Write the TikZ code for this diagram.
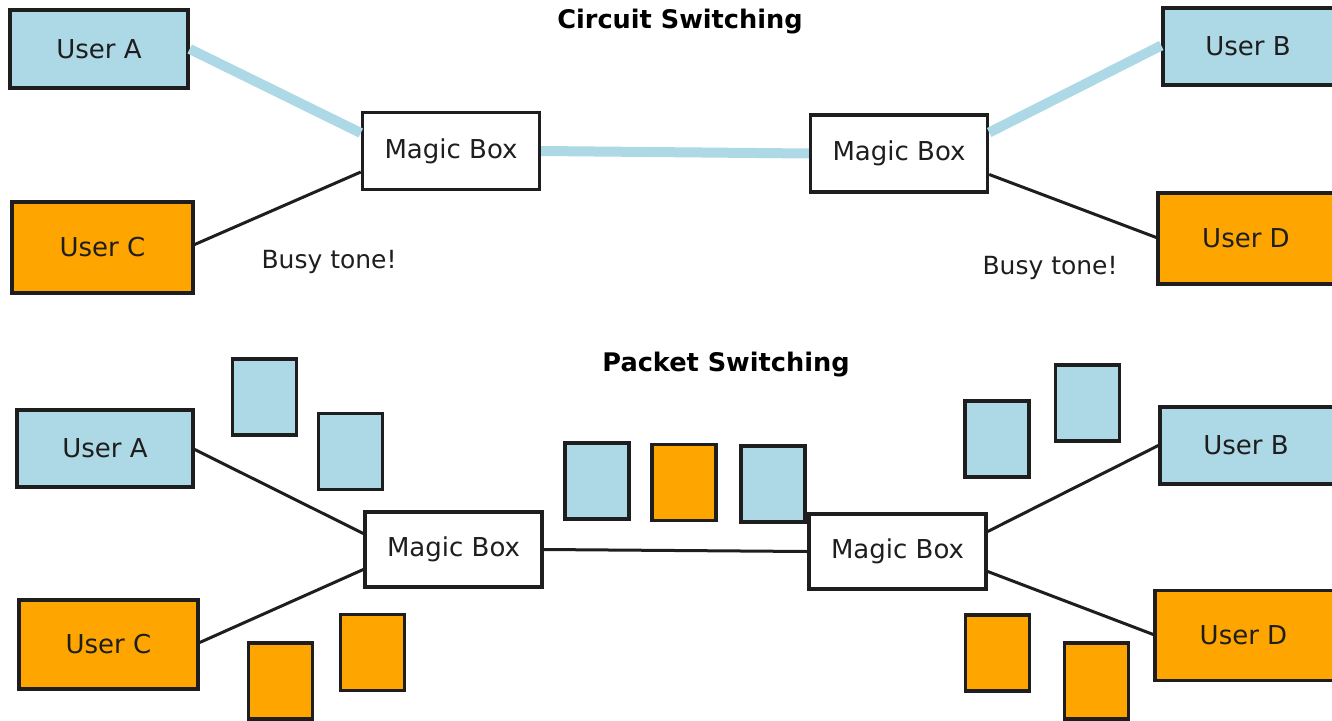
\documentclass[tikz,border=0pt]{standalone}
\usepackage{fontspec}
\setmainfont{DejaVu Sans}
\usetikzlibrary{calc}
\definecolor{pktblue}{HTML}{ADD8E6}
\definecolor{pktorange}{HTML}{FFA500}
\definecolor{ink}{HTML}{1E1E1E}
\tikzset{
  box/.style={draw=ink, line width=3.4pt, rectangle, inner sep=0pt,
    font=\fontsize{26}{30}\selectfont, text=ink},
  user/.style={box},
  bluebox/.style={user, fill=pktblue},
  orangebox/.style={user, fill=pktorange},
  magic/.style={box, fill=white, minimum width=177pt, minimum height=77pt},
  packet/.style={draw=ink, line width=3.4pt, rectangle, inner sep=0pt,
    minimum width=64pt, minimum height=76pt},
  title/.style={font=\bfseries\fontsize{25.6}{30}\selectfont, text=black},
  note/.style={font=\fontsize{25}{30}\selectfont, text=ink},
  circuit/.style={draw=pktblue, line width=10pt},
  wire/.style={draw=ink, line width=3pt},
}
\begin{document}
\begin{tikzpicture}[x=1pt, y=-1pt]
\useasboundingbox (0,0) rectangle (1332,720);
\clip (0,0) rectangle (1332,720);

% ---------- circuit switching ----------
\node[title] (t1) at (680,22) {Circuit Switching};

\node[bluebox, minimum width=178pt, minimum height=78pt] (a1) at (99,49) {User A};
\node[orangebox, minimum width=181pt, minimum height=91pt] (c1) at (102.5,247.5) {User C};
\node[magic] (ml1) at (451,151) {Magic Box};
\node[magic] (mr1) at (899,153.5) {Magic Box};
\node[bluebox, minimum width=184pt, minimum height=77pt] (b1) at (1255,46.5) {\hspace*{-14pt}User B};
\node[orangebox, minimum width=190pt, minimum height=91pt] (d1) at (1253,238.5) {\hspace*{-14pt}User D};

\node[note, anchor=west] (busyl) at (258,262) {Busy tone!};
\node[note, anchor=west] (busyr) at (979,268) {Busy tone!};

\draw[circuit] (a1.east) -- ($(ml1.west)+(0,-18)$);
\draw[circuit] (ml1.east) -- (mr1.west);
\draw[circuit] ($(mr1.east)+(0,-21)$) -- ($(b1.west)+(0,-1)$);
\draw[wire] ($(c1.east)+(0,-3)$) -- ($(ml1.west)+(0,21)$);
\draw[wire] ($(mr1.east)+(0,21)$) -- ($(d1.west)+(0,-1)$);

% ---------- packet switching ----------
\node[title] (t2) at (726,365) {Packet Switching};

\node[bluebox, minimum width=176pt, minimum height=77pt] (a2) at (105,448.5) {User A};
\node[orangebox, minimum width=179pt, minimum height=89pt] (c2) at (108.5,644.5) {User C};
\node[magic, minimum height=75pt] (ml2) at (453.5,549.5) {Magic Box};
\node[magic, minimum height=75pt] (mr2) at (897.5,551.5) {Magic Box};
\node[bluebox, minimum width=186pt, minimum height=77pt] (b2) at (1253,445.5) {\hspace*{-14pt}User B};
\node[orangebox, minimum width=191pt, minimum height=90pt] (d2) at (1250.5,635.5) {\hspace*{-14pt}User D};

\node[packet, fill=pktblue] (p1) at (264.5,397) {};
\node[packet, fill=pktblue] (p2) at (350.5,451.5) {};
\node[packet, fill=pktblue] (p3) at (597,481) {};
\node[packet, fill=pktorange] (p4) at (684,482.5) {};
\node[packet, fill=pktblue] (p5) at (773,484) {};
\node[packet, fill=pktblue] (p6) at (997,439) {};
\node[packet, fill=pktblue] (p7) at (1087.5,403) {};
\node[packet, fill=pktorange] (p8) at (372.5,652.5) {};
\node[packet, fill=pktorange] (p9) at (280.5,681) {};
\node[packet, fill=pktorange] (p10) at (997.5,653) {};
\node[packet, fill=pktorange] (p11) at (1096.5,681) {};

\draw[wire] ($(a2.east)+(0,1)$) -- ($(ml2.west)+(0,-16)$);
\draw[wire] ($(c2.east)+(0,-2)$) -- ($(ml2.west)+(0,20)$);
\draw[wire] (ml2.east) -- (mr2.west);
\draw[wire] ($(mr2.east)+(0,-20)$) -- (b2.west);
\draw[wire] ($(mr2.east)+(0,20)$) -- ($(d2.west)+(0,-1)$);
\end{tikzpicture}
\end{document}
